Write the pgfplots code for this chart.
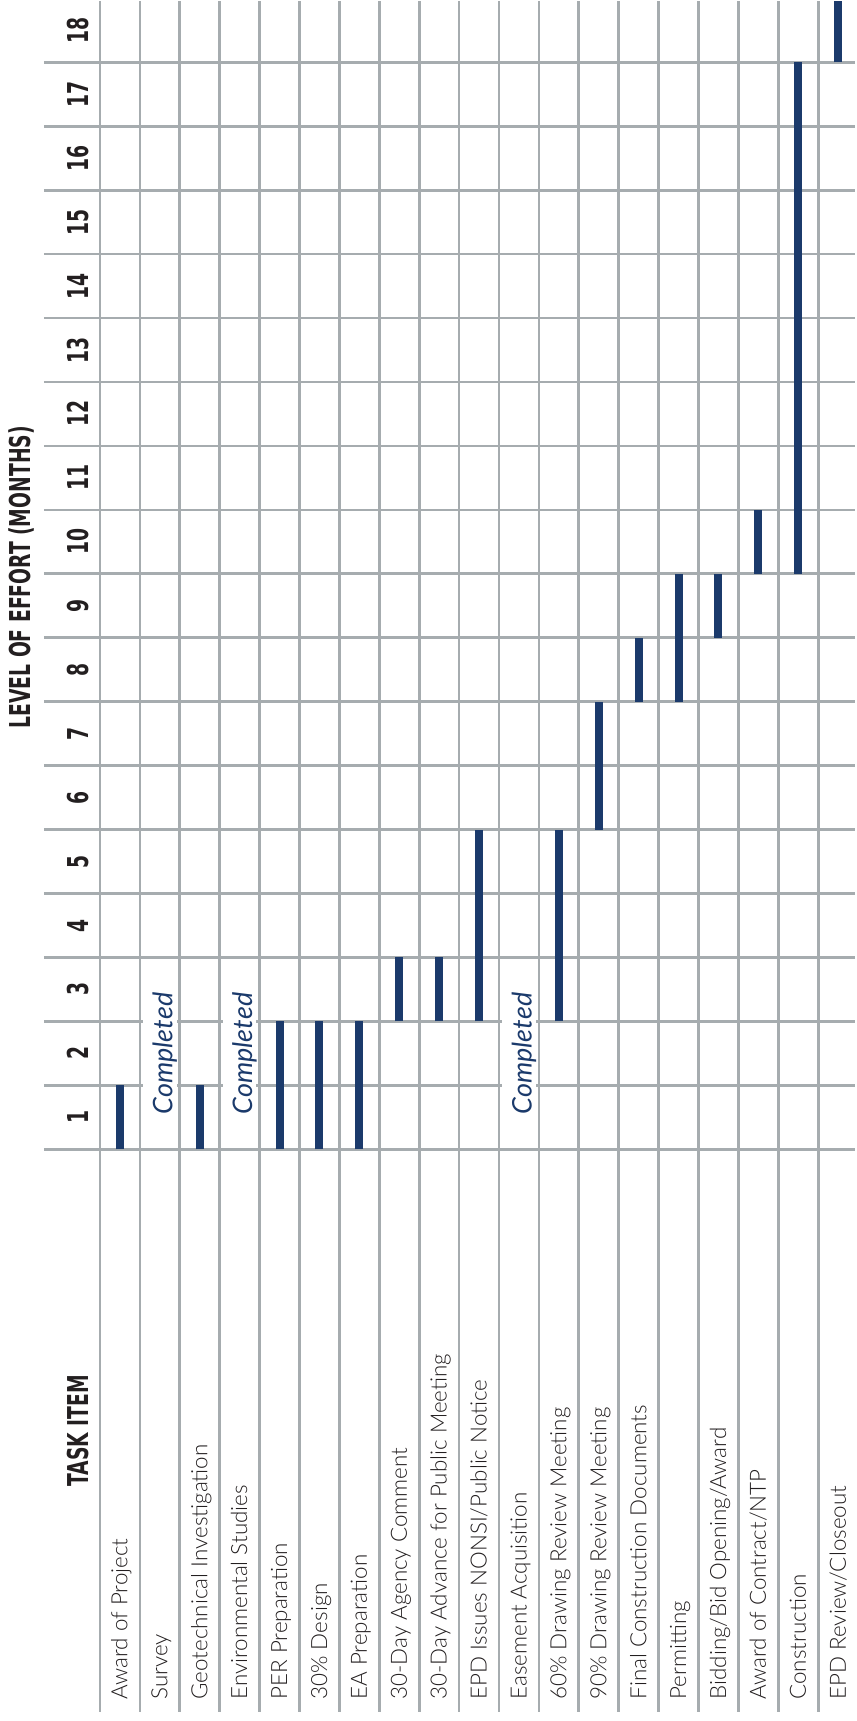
\documentclass[border=0pt]{standalone}
\usepackage{pgfplots}
\pgfplotsset{compat=1.18}
\usepackage{pgfplotstable}
\usepackage{graphicx}
\usepackage{fontspec}
\setmainfont{Lato}
\IfFontExistsTF{Lato Light}{\newfontfamily\labelfont{Lato Light}}{\newfontfamily\labelfont{Lato}}
\newfontfamily\headfont{DejaVu Sans}
\definecolor{navy}{RGB}{27,58,107}
\definecolor{gridgray}{RGB}{166,172,175}
\definecolor{txt}{RGB}{35,31,32}
\newcommand{\hd}[1]{\scalebox{0.651}[1]{\headfont\bfseries\fontsize{14.4}{16}\selectfont #1}}
\tikzset{
  tasklbl/.style={rotate=90, anchor=base west, inner sep=0pt, text=txt, font=\labelfont\fontsize{11.2}{13}\selectfont},
  monthlbl/.style={rotate=90, inner sep=0pt, text=txt},
  donelbl/.style={rotate=90, inner sep=0pt, text=navy, font=\itshape\fontsize{13.5}{15}\selectfont},
}
\pgfplotsset{gantt/.style={navy, line width=4pt, mark=none, forget plot}}
\begin{document}
\begin{tikzpicture}
\begin{axis}[
  scale only axis,
  width=406pt, height=856pt,
  xmin=-1.903, xmax=18.428,
  ymin=-8.797, ymax=17.953,
  xtick={-0.5,0.5,...,17.5},
  ytick={0,1,...,17},
  xticklabels={}, yticklabels={},
  tick label style={inner sep=0pt, outer sep=0pt},
  major tick length=0pt,
  axis line style={draw=none},
  grid=major,
  grid style={gridgray, line width=1.35pt},
  clip mode=individual,
]
% task index, start month, end month
\addplot[gantt] coordinates {(0,0) (0,1)};   % Award of Project
\addplot[gantt] coordinates {(2,0) (2,1)};   % Geotechnical Investigation
\addplot[gantt] coordinates {(4,0) (4,2)};   % PER Preparation
\addplot[gantt] coordinates {(5,0) (5,2)};   % 30% Design
\addplot[gantt] coordinates {(6,0) (6,2)};   % EA Preparation
\addplot[gantt] coordinates {(7,2) (7,3)};   % 30-Day Agency Comment
\addplot[gantt] coordinates {(8,2) (8,3)};   % 30-Day Advance
\addplot[gantt] coordinates {(9,2) (9,5)};   % EPD Issues
\addplot[gantt] coordinates {(11,2) (11,5)}; % 60% Drawing Review
\addplot[gantt] coordinates {(12,5) (12,7)}; % 90% Drawing Review
\addplot[gantt] coordinates {(13,7) (13,8)}; % Final Construction Docs
\addplot[gantt] coordinates {(14,7) (14,9)}; % Permitting
\addplot[gantt] coordinates {(15,8) (15,9)}; % Bidding
\addplot[gantt] coordinates {(16,9) (16,10)}; % Award of Contract
\addplot[gantt] coordinates {(17,9) (17,17)}; % Construction
\addplot[gantt] coordinates {(18,17) (18,18)}; % EPD Review/Closeout

% Completed markers
\fill[white] (axis cs:0.58,0.45) rectangle (axis cs:1.42,2.55);
\fill[white] (axis cs:2.58,0.45) rectangle (axis cs:3.42,2.55);
\fill[white] (axis cs:9.58,0.45) rectangle (axis cs:10.42,2.55);
\node[donelbl] at (axis cs:1.125,1.5) {Completed};
\node[donelbl] at (axis cs:3.125,1.5) {Completed};
\node[donelbl] at (axis cs:10.125,1.5) {Completed};

% month numbers
\node[monthlbl] at (axis cs:-1.052,0.5) {\hd{1}};
\node[monthlbl] at (axis cs:-1.052,1.5) {\hd{2}};
\node[monthlbl] at (axis cs:-1.052,2.5) {\hd{3}};
\node[monthlbl] at (axis cs:-1.052,3.5) {\hd{4}};
\node[monthlbl] at (axis cs:-1.052,4.5) {\hd{5}};
\node[monthlbl] at (axis cs:-1.052,5.5) {\hd{6}};
\node[monthlbl] at (axis cs:-1.052,6.5) {\hd{7}};
\node[monthlbl] at (axis cs:-1.052,7.5) {\hd{8}};
\node[monthlbl] at (axis cs:-1.052,8.5) {\hd{9}};
\node[monthlbl] at (axis cs:-1.052,9.5) {\hd{10}};
\node[monthlbl] at (axis cs:-1.052,10.5) {\hd{11}};
\node[monthlbl] at (axis cs:-1.052,11.5) {\hd{12}};
\node[monthlbl] at (axis cs:-1.052,12.5) {\hd{13}};
\node[monthlbl] at (axis cs:-1.052,13.5) {\hd{14}};
\node[monthlbl] at (axis cs:-1.052,14.5) {\hd{15}};
\node[monthlbl] at (axis cs:-1.052,15.5) {\hd{16}};
\node[monthlbl] at (axis cs:-1.052,16.5) {\hd{17}};
\node[monthlbl] at (axis cs:-1.052,17.5) {\hd{18}};

% headers
\node[monthlbl] at (axis cs:-2.466,8.945) {\hd{LEVEL OF EFFORT (MONTHS)}};
\node[monthlbl, anchor=west] at (axis cs:-1.052,-5.28) {\hd{TASK ITEM}};

% task labels
\node[tasklbl] at (axis cs:0.19,-8.61) {Award of Project};
\node[tasklbl] at (axis cs:1.19,-8.61) {Survey};
\node[tasklbl] at (axis cs:2.19,-8.61) {Geotechnical Investigation};
\node[tasklbl] at (axis cs:3.19,-8.61) {Environmental Studies};
\node[tasklbl] at (axis cs:4.19,-8.61) {PER Preparation};
\node[tasklbl] at (axis cs:5.19,-8.61) {30\% Design};
\node[tasklbl] at (axis cs:6.19,-8.61) {EA Preparation};
\node[tasklbl] at (axis cs:7.19,-8.61) {30-Day Agency Comment};
\node[tasklbl] at (axis cs:8.19,-8.61) {30-Day Advance for Public Meeting};
\node[tasklbl] at (axis cs:9.19,-8.61) {EPD Issues NONSI/Public Notice};
\node[tasklbl] at (axis cs:10.19,-8.61) {Easement Acquisition};
\node[tasklbl] at (axis cs:11.19,-8.61) {60\% Drawing Review Meeting};
\node[tasklbl] at (axis cs:12.19,-8.61) {90\% Drawing Review Meeting};
\node[tasklbl] at (axis cs:13.19,-8.61) {Final Construction Documents};
\node[tasklbl] at (axis cs:14.19,-8.61) {Permitting};
\node[tasklbl] at (axis cs:15.19,-8.61) {Bidding/Bid Opening/Award};
\node[tasklbl] at (axis cs:16.19,-8.61) {Award of Contract/NTP};
\node[tasklbl] at (axis cs:17.19,-8.61) {Construction};
\node[tasklbl] at (axis cs:18.19,-8.61) {EPD Review/Closeout};

% full picture extent
\path (axis cs:-3.005,-8.94) (axis cs:18.428,17.953);
\end{axis}
\end{tikzpicture}
\end{document}
